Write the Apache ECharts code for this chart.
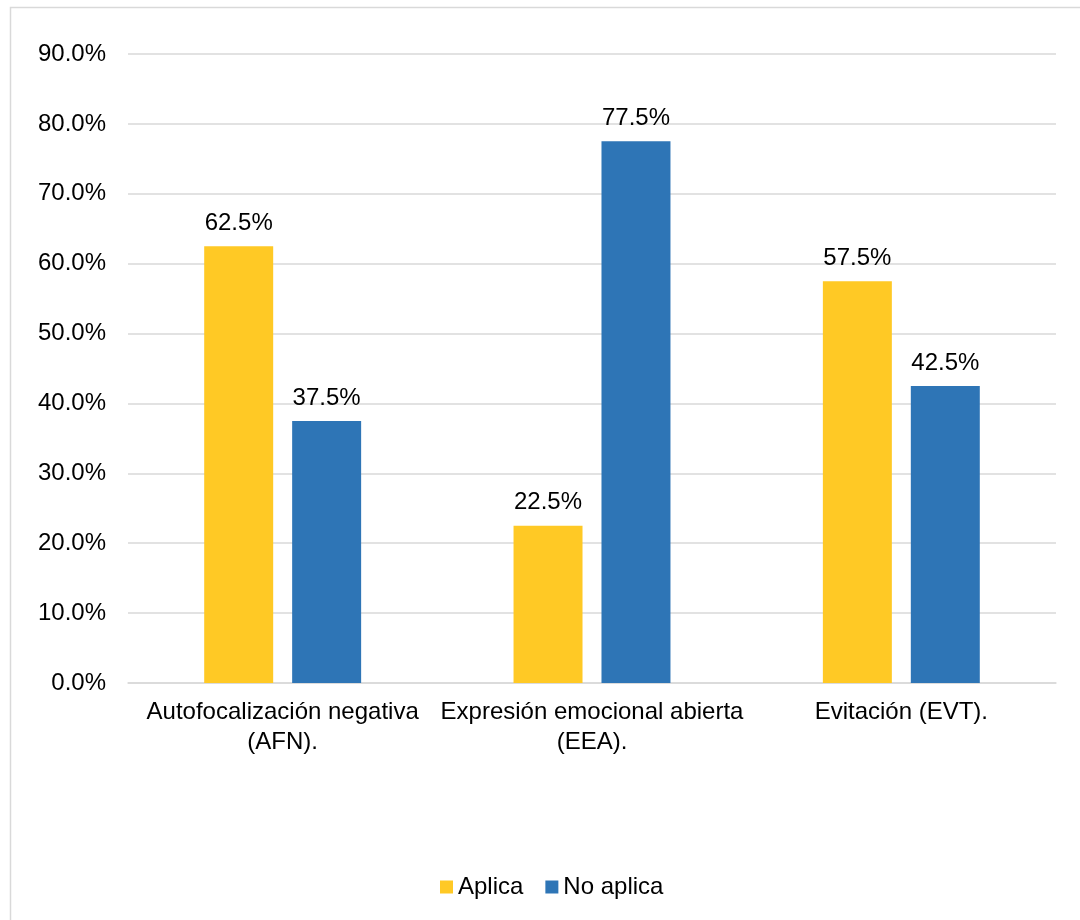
<!DOCTYPE html>
<html>
<head>
<meta charset="utf-8">
<script src="https://cdn.jsdelivr.net/npm/echarts@6/dist/echarts.min.js"></script>
<style>
  html, body { margin: 0; padding: 0; background: #fff; }
  #chart { width: 1080px; height: 920px; }
</style>
</head>
<body>
<div id="chart"></div>
<script>
// Coping strategies: share of respondents for whom each one applies
const categories = ['Autofocalización negativa\n(AFN).', 'Expresión emocional abierta\n(EEA).', 'Evitación (EVT).'];
const seriesNames = ['Aplica', 'No aplica'];
const aplica = [62.5, 22.5, 57.5];
const noAplica = [37.5, 77.5, 42.5];
const colors = ['#FFC925', '#2E75B6'];

const font = 'Liberation Sans, Arial, sans-serif';
const fs = 24;
const chart = echarts.init(document.getElementById('chart'), null, { renderer: 'canvas' });

const pct = v => v.toFixed(1) + '%';

chart.setOption({
  animation: false,
  textStyle: { fontFamily: font },
  graphic: [{
    type: 'rect',
    shape: { x: 10.5, y: 7.5, width: 1100, height: 1000 },
    style: { fill: 'none', stroke: '#D9D9D9', lineWidth: 1.5 },
    silent: true
  }],
  grid: { left: 128, right: 24, top: 54, bottom: 237, containLabel: false },
  legend: {
    bottom: 16,
    left: 435,
    itemWidth: 13,
    itemHeight: 13,
    itemGap: 22,
    icon: 'rect',
    textStyle: { fontSize: fs, color: '#000', fontFamily: font },
    data: seriesNames
  },
  xAxis: {
    type: 'category',
    data: categories,
    axisLine: { lineStyle: { color: '#D9D9D9', width: 1.5 } },
    axisTick: { show: false },
    axisLabel: { color: '#000', fontSize: fs, lineHeight: 30, margin: 14, fontFamily: font, interval: 0 }
  },
  yAxis: {
    type: 'value',
    min: 0,
    max: 90,
    interval: 10,
    axisLine: { show: false },
    axisTick: { show: false },
    splitLine: { lineStyle: { color: '#D9D9D9', width: 1.5 } },
    axisLabel: { color: '#000', fontSize: fs, margin: 22, fontFamily: font, formatter: v => v.toFixed(1) + '%' }
  },
  series: [
    {
      name: seriesNames[0], type: 'bar', data: aplica,
      barWidth: '22.3%', barGap: '27.5%',
      itemStyle: { color: colors[0] },
      label: { show: true, position: 'top', distance: 11, color: '#000', fontSize: fs, fontFamily: font, formatter: p => pct(p.value) }
    },
    {
      name: seriesNames[1], type: 'bar', data: noAplica,
      barWidth: '22.3%', barGap: '27.5%',
      itemStyle: { color: colors[1] },
      label: { show: true, position: 'top', distance: 11, color: '#000', fontSize: fs, fontFamily: font, formatter: p => pct(p.value) }
    }
  ]
});
</script>
</body>
</html>
